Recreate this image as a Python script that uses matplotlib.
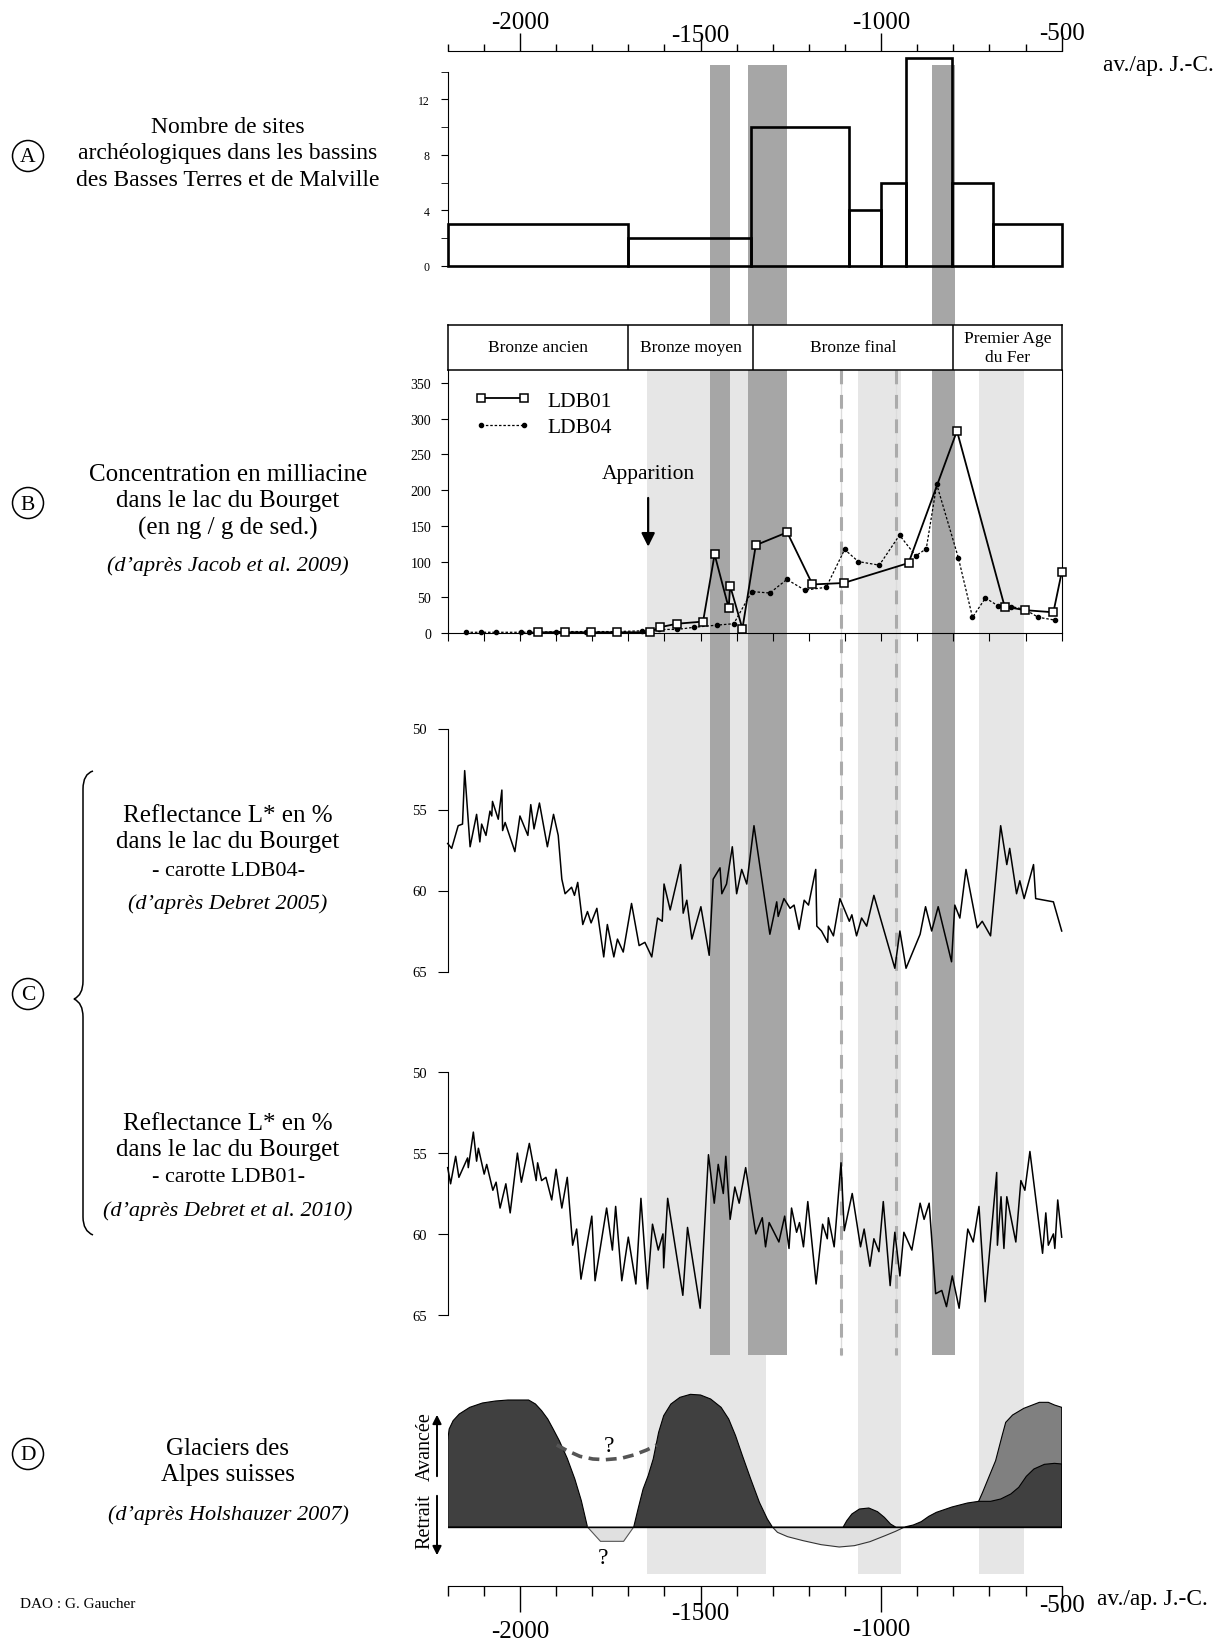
import numpy as np
import matplotlib.pyplot as plt
from matplotlib.patches import Circle, PathPatch
from matplotlib.path import Path

plt.rcParams['font.family'] = ['Liberation Serif', 'DejaVu Serif']

W, H = 1227, 1640
X0, X1 = -2200, -500

# --- A : number of archaeological sites (histogram)
site_edges = [-2200, -1700, -1360, -1090, -1000, -930, -805, -690, -500]
site_counts = [3, 2, 10, 4, 6, 15, 6, 3]

# --- periods
period_edges = [-2200, -1700, -1355, -800, -500]
period_names = ['Bronze ancien', 'Bronze moyen', 'Bronze final', 'Premier Age\ndu Fer']

# --- B : milliacine
ldb01_year = [-1950, -1875, -1804, -1730, -1641, -1613, -1565, -1493, -1461, -1422, -1418,
              -1384, -1347, -1260, -1190, -1104, -924, -790, -658, -602, -523, -500]
ldb01_val = [1, 1, 1, 1, 1, 8, 13, 16, 110, 35, 66, 6, 123, 141, 68, 70, 98, 283, 37, 32, 29, 85]
ldb04_year = [-2149, -2108, -2065, -1996, -1975, -1950, -1900, -1874, -1816, -1733, -1663, -1614,
              -1564, -1518, -1455, -1408, -1358, -1308, -1261, -1211, -1152, -1101, -1063, -1005,
              -949, -904, -875, -846, -786, -747, -711, -676, -639, -602, -565, -518]
ldb04_val = [1, 1, 1, 1, 1, 1, 2, 2, 2, 2, 3, 5, 5, 8, 11, 13, 58, 56, 75, 60, 64, 117, 100, 95,
             137, 108, 118, 208, 105, 22, 49, 38, 37, 33, 22, 18]

# --- C : reflectance L*
c1_year = [-2200, -2189, -2171, -2159, -2153, -2138, -2120, -2111, -2106, -2094, -2083, -2078,
           -2076, -2060, -2050, -2048, -2041, -2014, -2000, -1978, -1970, -1961, -1946, -1924,
           -1907, -1894, -1884, -1875, -1857, -1849, -1840, -1826, -1813, -1803, -1787, -1768,
           -1758, -1740, -1730, -1714, -1691, -1670, -1654, -1635, -1619, -1606, -1601, -1584,
           -1555, -1548, -1538, -1524, -1499, -1476, -1465, -1446, -1441, -1428, -1412, -1400,
           -1386, -1372, -1352, -1308, -1289, -1285, -1269, -1252, -1241, -1227, -1213, -1201,
           -1181, -1178, -1165, -1148, -1146, -1132, -1114, -1088, -1081, -1068, -1054, -1040,
           -1020, -962, -948, -931, -892, -877, -860, -842, -805, -796, -782, -765, -734, -720,
           -697, -669, -652, -644, -625, -616, -604, -578, -572, -523, -500]
c1_val = [57.1, 57.4, 56.0, 55.9, 52.6, 57.3, 55.3, 57.0, 55.9, 56.6, 55.1, 55.4,
          54.5, 55.6, 53.8, 56.3, 55.8, 57.6, 55.4, 56.6, 54.7, 56.2, 54.6, 57.3,
          55.3, 56.6, 59.3, 60.2, 59.8, 60.3, 59.5, 62.1, 61.3, 62.0, 61.1, 64.1,
          62.1, 64.1, 63.0, 63.8, 60.8, 63.4, 63.2, 64.1, 61.7, 61.9, 59.6, 61.2,
          58.4, 61.4, 60.6, 63.0, 61.0, 64.0, 59.3, 58.6, 60.2, 59.6, 57.3, 60.2,
          58.7, 59.6, 56.0, 62.7, 60.7, 61.6, 60.5, 61.1, 60.9, 62.4, 60.6, 60.9,
          58.7, 62.2, 62.5, 63.2, 62.2, 62.8, 60.5, 61.9, 61.5, 62.8, 61.7, 62.2,
          60.3, 64.8, 62.5, 64.8, 62.7, 61.0, 62.5, 61.0, 64.4, 60.9, 61.7, 58.7,
          62.3, 61.9, 62.8, 56.0, 58.4, 57.4, 60.2, 59.4, 60.5, 58.4, 60.5, 60.7, 62.5]
c2_year = [-2200, -2192, -2178, -2169, -2145, -2143, -2129, -2120, -2115, -2099, -2092, -2075,
           -2066, -2055, -2039, -2027, -2007, -1996, -1974, -1955, -1951, -1940, -1928, -1912,
           -1900, -1884, -1869, -1854, -1843, -1831, -1801, -1792, -1760, -1744, -1735, -1718,
           -1700, -1679, -1665, -1647, -1633, -1617, -1604, -1602, -1591, -1549, -1536, -1501,
           -1478, -1462, -1451, -1437, -1430, -1418, -1405, -1393, -1375, -1347, -1329, -1320,
           -1310, -1283, -1267, -1255, -1248, -1234, -1226, -1215, -1203, -1180, -1162, -1149,
           -1146, -1130, -1111, -1102, -1080, -1057, -1047, -1031, -1020, -1006, -994, -975,
           -962, -948, -937, -915, -892, -881, -867, -849, -832, -819, -803, -784, -760, -745,
           -729, -712, -680, -678, -668, -660, -652, -627, -613, -602, -588, -553, -544, -537,
           -523, -519, -511, -500]
c2_val = [55.9, 56.9, 55.2, 56.5, 55.3, 55.9, 53.7, 55.5, 54.7, 56.3, 55.7, 57.3,
          56.8, 58.4, 56.9, 58.7, 55.0, 56.8, 54.4, 56.7, 55.6, 56.7, 56.5, 57.9,
          56.0, 58.4, 56.5, 60.7, 59.7, 62.8, 58.9, 62.9, 58.4, 61.0, 58.3, 62.9,
          60.2, 63.1, 57.8, 63.4, 59.4, 61.0, 60.0, 62.1, 57.8, 63.8, 59.6, 64.6,
          55.1, 58.1, 55.7, 57.5, 55.2, 59.1, 57.1, 58.1, 55.9, 60.0, 59.0, 60.8,
          59.3, 60.5, 58.9, 60.9, 58.4, 59.9, 59.3, 60.8, 58.0, 63.1, 59.4, 60.3,
          59.0, 60.8, 55.6, 59.8, 57.5, 60.8, 59.7, 62.0, 60.3, 61.1, 58.0, 63.2,
          59.9, 62.6, 59.9, 61.0, 58.1, 59.1, 58.1, 63.7, 63.5, 64.5, 62.6, 64.6,
          59.7, 60.5, 58.3, 64.2, 56.2, 60.7, 57.7, 60.9, 57.7, 60.5, 56.7, 57.3,
          54.9, 61.2, 58.7, 60.7, 60.0, 60.9, 57.9, 60.2]

# --- D : Swiss glaciers (arbitrary advance / retreat units)
adv1_year = [-2200, -2200, -2196, -2185, -2168, -2139, -2104, -2068, -2033, -1976, -1957, -1940,
             -1923, -1909, -1891, -1869, -1848, -1830, -1813]
adv1_val = [0, 2.59, 2.94, 3.19, 3.39, 3.59, 3.72, 3.78, 3.81, 3.81, 3.69, 3.49,
            3.24, 2.96, 2.59, 2.06, 1.44, 0.79, 0.0]
ret1_year = [-1813, -1777, -1713, -1685]
ret1_val = [0, -0.43, -0.43, 0]
adv2_year = [-1685, -1673, -1659, -1645, -1631, -1616, -1602, -1582, -1557, -1528, -1500, -1472,
             -1443, -1422, -1403, -1384, -1361, -1337, -1315, -1301]
adv2_val = [0, 0.54, 1.14, 1.54, 2.04, 2.84, 3.34, 3.69, 3.89, 3.98, 3.96, 3.84,
            3.59, 3.24, 2.74, 2.14, 1.44, 0.74, 0.24, 0]
ret2_year = [-1301, -1287, -1259, -1216, -1166, -1116, -1074, -1031, -989, -960, -935]
ret2_val = [0, -0.16, -0.29, -0.41, -0.53, -0.60, -0.56, -0.44, -0.26, -0.13, 0]
adv3_year = [-1105, -1095, -1081, -1060, -1034, -1010, -991, -974, -960]
adv3_val = [0, 0.19, 0.39, 0.54, 0.57, 0.46, 0.29, 0.09, 0]
adv4_year = [-935, -911, -889, -868, -847, -804, -761, -730, -697, -669, -641, -619,
             -598, -577, -548, -520, -500, -500]
adv4_val = [0, 0.06, 0.16, 0.32, 0.44, 0.60, 0.72, 0.77, 0.77, 0.84, 0.99, 1.19,
            1.52, 1.74, 1.88, 1.91, 1.89, 0]
adv5_year = [-730, -719, -702, -683, -665, -655, -636, -605, -562, -537, -520, -500, -500, -730]
adv5_val = [0.77, 1.04, 1.49, 1.99, 2.74, 3.14, 3.36, 3.56, 3.74, 3.74, 3.66, 3.59, 0, 0]
gap_year = [-1898, -1869, -1834, -1798, -1763, -1720, -1685, -1649, -1621]
gap_val = [2.46, 2.29, 2.12, 2.04, 2.02, 2.06, 2.16, 2.31, 2.46]

# --- shaded periods
dark_bands = [(-1475, -1418), (-1368, -1260), (-860, -796)]
light_bands = [(-1648, -1320), (-1065, -945), (-730, -605)]
dashed_years = [-1112, -958]

major_ticks = [-2000, -1500, -1000, -500]
minor_ticks = list(range(-2200, -499, 100))

fig = plt.figure(figsize=(W / 100, H / 100), dpi=100)


def px_axes(top, bottom, left=447.7, right=1061.7):
    return fig.add_axes([left / W, 1 - bottom / H, (right - left) / W, (bottom - top) / H])


# background: bands in (year, pixel-row) coordinates
bg = px_axes(0, H)
bg.axis('off')
for a, b in light_bands:
    bg.fill_between([a, b], 371, 1575, color='#e6e6e6', lw=0, zorder=1)
for a, b in dark_bands:
    bg.fill_between([a, b], 66, 1356, color='#a6a6a6', lw=0, zorder=2)
for x in dashed_years:
    bg.plot([x, x], [371, 1356], color='#dcdcdc', lw=1.0, zorder=3)
    bg.plot([x, x], [371, 1356], color='#ababab', lw=2.2, ls=(0, (4.5, 3.5)), zorder=3)
bg.set_xlim(X0, X1)
bg.set_ylim(H, 0)

# time axis labels (staggered)
for v, yy in zip(major_ticks, [23, 36, 23, 34]):
    bg.text(v, yy, str(v), ha='center', va='center', fontsize=18)
for v, yy in zip(major_ticks, [1632, 1614, 1630, 1606]):
    bg.text(v, yy, str(v), ha='center', va='center', fontsize=18)

# ---- Panel A
axA = px_axes(51.7, 266.7)
axA.patch.set_alpha(0)
axA.bar(site_edges[:-1], site_counts, width=np.diff(site_edges), align='edge', fill=False,
        edgecolor='black', linewidth=1.9, clip_on=False, zorder=3)
axA.set_xlim(X0, X1)
axA.set_ylim(0, 15.51)
axA.spines['right'].set_visible(False)
axA.spines['bottom'].set_visible(False)
axA.spines['left'].set_bounds(0, 14)
axA.xaxis.tick_top()
axA.set_xticks(major_ticks)
axA.set_xticks(minor_ticks, minor=True)
axA.tick_params(axis='x', which='major', direction='out', length=13, labeltop=False, width=1)
axA.tick_params(axis='x', which='minor', direction='out', length=5, width=1)
axA.set_yticks([0, 4, 8, 12])
axA.set_yticks([2, 6, 10, 14], minor=True)
axA.tick_params(axis='y', which='both', length=5, labelsize=8.5, pad=8)

# ---- period header
axH = px_axes(326, 371)
axH.set_facecolor('white')
axH.set_xlim(X0, X1)
axH.set_ylim(0, 1)
axH.set_xticks([])
axH.set_yticks([])
for s in axH.spines.values():
    s.set_linewidth(1.1)
for x in period_edges[1:-1]:
    axH.axvline(x, color='black', lw=1.1)
for name, a, b in zip(period_names, period_edges[:-1], period_edges[1:]):
    axH.text((a + b) / 2, 0.5, name, ha='center', va='center', fontsize=12.5, linespacing=1.3)

# ---- Panel B
axB = px_axes(371, 634)
axB.patch.set_alpha(0)
l1, = axB.plot(ldb01_year, ldb01_val, '-', color='black', lw=1.3, marker='s', ms=5.2,
               mfc='white', mec='black', mew=1.1, label='LDB01', zorder=4, clip_on=False)
l2, = axB.plot(ldb04_year, ldb04_val, color='black', lw=0.9, ls=(0, (2, 1.5)), marker='o',
               ms=3, label='LDB04', zorder=3, clip_on=False)
axB.set_xlim(X0, X1)
axB.set_ylim(0, 368.3)
axB.spines['top'].set_visible(False)
axB.set_yticks(range(0, 351, 50))
axB.set_xticks(minor_ticks)
axB.tick_params(axis='x', length=6, direction='out', labelbottom=False)
axB.tick_params(axis='y', length=5, labelsize=10, pad=7)
axB.legend(handles=[l1, l2], loc='upper left', bbox_to_anchor=(0.01, 1.0), frameon=False,
           fontsize=15.5, handlelength=2.6, numpoints=2, labelspacing=0.3, borderaxespad=0.55)
axB.annotate('', xy=(-1645, 117), xytext=(-1645, 193),
             arrowprops=dict(arrowstyle='-|>', color='black', lw=1.6, mutation_scale=20))
axB.text(-1645, 224, 'Apparition', ha='center', va='center', fontsize=15.5)

# ---- Panel C
for top, bot, yrs, vals in [(729.5, 972.5, c1_year, c1_val), (1073.3, 1315.7, c2_year, c2_val)]:
    ax = px_axes(top, bot)
    ax.patch.set_alpha(0)
    ax.plot(yrs, vals, color='black', lw=1.1, clip_on=False)
    ax.set_xlim(X0, X1)
    ax.set_ylim(65, 50)
    for s in ['top', 'right', 'bottom']:
        ax.spines[s].set_visible(False)
    ax.set_xticks([])
    ax.set_yticks([50, 55, 60, 65])
    ax.tick_params(axis='y', length=7, labelsize=10.5, pad=8)

# ---- Panel D
axD = px_axes(1380, 1586.7)
axD.patch.set_alpha(0)
dark = '#404040'
axD.fill(adv1_year, adv1_val, fc=dark, ec='black', lw=0.8)
axD.fill(ret1_year, ret1_val, fc='#e0e0e0', ec='#555555', lw=0.8)
axD.fill(adv2_year, adv2_val, fc=dark, ec='black', lw=0.8)
axD.fill(ret2_year, ret2_val, fc='#e0e0e0', ec='#333333', lw=0.8)
axD.fill(adv3_year, adv3_val, fc=dark, ec='black', lw=0.8)
axD.fill(adv5_year, adv5_val, fc='#808080', ec='black', lw=0.8)
axD.fill(adv4_year, adv4_val, fc=dark, ec='black', lw=0.8)
axD.plot(gap_year, gap_val, color='#555555', lw=2.6, ls=(0, (3, 1.8)))
axD.axhline(0, color='black', lw=1.0)
axD.text(-1753, 2.44, '?', ha='center', va='center', fontsize=17)
axD.text(-1770, -0.93, '?', ha='center', va='center', fontsize=17)
axD.set_xlim(X0, X1)
axD.set_ylim(-1.761, 4.44)
for s in ['top', 'right', 'left']:
    axD.spines[s].set_visible(False)
axD.set_yticks([])
axD.set_xticks(major_ticks)
axD.set_xticks(minor_ticks, minor=True)
axD.tick_params(axis='x', which='major', direction='out', length=19, labelbottom=False, width=1)
axD.tick_params(axis='x', which='minor', direction='out', length=7, width=1)

# ---- overlay for labels (pixel coordinates)
ov = fig.add_axes([0, 0, 1, 1])
ov.set_xlim(0, W)
ov.set_ylim(H, 0)
ov.axis('off')

ov.text(1103, 65, 'av./ap. J.-C.', ha='left', va='center', fontsize=16.8)
ov.text(1097, 1600, 'av./ap. J.-C.', ha='left', va='center', fontsize=16.8)

for letter, cy in [('A', 157), ('B', 504), ('C', 995), ('D', 1455)]:
    ov.add_patch(Circle((28, cy), 15.5, fill=False, ec='black', lw=1.1))
    ov.text(28, cy + 1, letter, ha='center', va='center', fontsize=15.5)

cx = 228
main_fs = 18
ov.text(cx, 154, 'Nombre de sites\narchéologiques dans les bassins\ndes Basses Terres et de Malville',
        ha='center', va='center', fontsize=17, linespacing=1.34)
ov.text(cx, 502, 'Concentration en milliacine\ndans le lac du Bourget\n(en ng / g de sed.)',
        ha='center', va='center', fontsize=main_fs, linespacing=1.28)
ov.text(cx, 566, '(d\u2019après Jacob et al. 2009)', ha='center', va='center', fontsize=16, style='italic')
ov.text(cx, 829, 'Reflectance L* en %\ndans le lac du Bourget', ha='center', va='center',
        fontsize=main_fs, linespacing=1.25)
ov.text(cx, 872, '- carotte LDB04-', ha='center', va='center', fontsize=16)
ov.text(cx, 904, '(d\u2019après Debret 2005)', ha='center', va='center', fontsize=16, style='italic')
ov.text(cx, 1137, 'Reflectance L* en %\ndans le lac du Bourget', ha='center', va='center',
        fontsize=main_fs, linespacing=1.25)
ov.text(cx, 1178, '- carotte LDB01-', ha='center', va='center', fontsize=16)
ov.text(cx, 1211, '(d\u2019après Debret et al. 2010)', ha='center', va='center', fontsize=16, style='italic')
ov.text(cx, 1462, 'Glaciers des\nAlpes suisses', ha='center', va='center', fontsize=main_fs, linespacing=1.28)
ov.text(cx, 1515, '(d\u2019après Holshauzer 2007)', ha='center', va='center', fontsize=16, style='italic')
ov.text(20, 1605, 'DAO : G. Gaucher', ha='left', va='center', fontsize=11)

# brace for panel C
verts = [(93, 772), (83, 775), (83, 790), (83, 982), (83, 996), (74, 1000),
         (83, 1004), (83, 1018), (83, 1218), (83, 1232), (93, 1236)]
codes = [Path.MOVETO, Path.CURVE3, Path.CURVE3, Path.LINETO, Path.CURVE3, Path.CURVE3,
         Path.CURVE3, Path.CURVE3, Path.LINETO, Path.CURVE3, Path.CURVE3]
ov.add_patch(PathPatch(Path(verts, codes), fill=False, ec='black', lw=1.1))

# advance / retreat arrows for panel D
ov.annotate('', xy=(437, 1413), xytext=(437, 1480),
            arrowprops=dict(arrowstyle='-|>', color='black', lw=1.4, mutation_scale=13))
ov.annotate('', xy=(437, 1559), xytext=(437, 1494),
            arrowprops=dict(arrowstyle='-|>', color='black', lw=1.4, mutation_scale=13))
ov.text(425, 1447, 'Avancée', rotation=90, ha='center', va='center', fontsize=14.5)
ov.text(425, 1522, 'Retrait', rotation=90, ha='center', va='center', fontsize=14.5)

fig.savefig('out.png', dpi=100)
